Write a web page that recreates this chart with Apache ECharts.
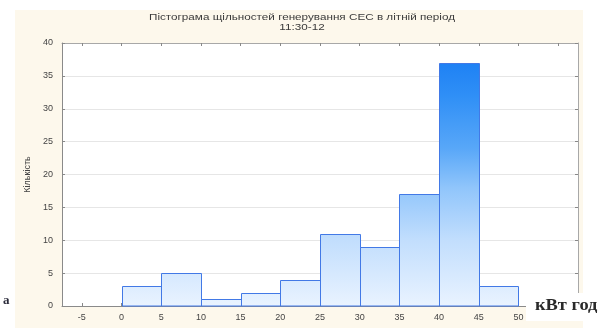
<!DOCTYPE html>
<html>
<head>
<meta charset="utf-8">
<script src="https://cdn.jsdelivr.net/npm/echarts@6/dist/echarts.min.js"></script>
<style>
  html, body { margin: 0; padding: 0; background: #fff; }
  #chart { width: 604px; height: 328px; }
</style>
</head>
<body>
<div id="chart"></div>
<script>
// Histogram bins (kWh) and counts
const binStart = [0, 5, 10, 15, 20, 25, 30, 35, 40, 45];
const binEnd   = [5, 10, 15, 20, 25, 30, 35, 40, 45, 50];
const counts   = [3, 5, 1, 2, 4, 11, 9, 17, 37, 3];

const xTickValues  = [-5, 0, 5, 10, 15, 20, 25, 30, 35, 40, 45, 50, 55];
const xLabelValues = [-5, 0, 5, 10, 15, 20, 25, 30, 35, 40, 45, 50];

const titleLines = ['Пістограма щільностей генерування СЕС в літній період', '11:30-12'];
const yName = 'Кількість';
const unitText = 'кВт год';

const chart = echarts.init(document.getElementById('chart'), null, { renderer: 'canvas' });

const font = '"Liberation Sans", Arial, sans-serif';
const fillStops = [
  { offset: 0.00, color: '#e9f3ff' },
  { offset: 0.25, color: '#c2defd' },
  { offset: 0.45, color: '#90c5fb' },
  { offset: 0.60, color: '#58a7f8' },
  { offset: 0.80, color: '#2f8ff6' },
  { offset: 1.00, color: '#1479f3' }
];

function renderBin(params, api) {
  const p0 = api.coord([api.value(0), 0]);
  const p1 = api.coord([api.value(1), api.value(2)]);
  const yTop = api.coord([0, 40])[1];
  const yBot = api.coord([0, 0])[1];
  const x0 = Math.round(p0[0]) + 0.5;
  const x1 = Math.round(p1[0]) + 0.5;
  const y1 = Math.round(p1[1]) + 0.5;
  const y0 = Math.round(p0[1]);
  return {
    type: 'rect',
    shape: { x: x0, y: y1, width: x1 - x0, height: y0 - y1 },
    style: {
      fill: new echarts.graphic.LinearGradient(0, yBot, 0, yTop, fillStops, true),
      stroke: '#4279e6',
      lineWidth: 1
    }
  };
}

const axisTickCommon = { show: true, inside: true, length: 3, lineStyle: { color: '#888' } };
const labelStyle = { fontFamily: font, fontSize: 9, color: '#444' };

chart.setOption({
  backgroundColor: '#ffffff',
  animation: false,
  grid: {
    left: 62, right: 26, top: 43, bottom: 22,
    show: true, backgroundColor: '#ffffff', borderWidth: 0
  },
  xAxis: [
    {
      type: 'value', min: -7.5, max: 57.5, position: 'bottom',
      axisLine: { show: true, onZero: false, lineStyle: { color: '#8a8a8a', width: 1 } },
      axisTick: Object.assign({}, axisTickCommon, { customValues: xTickValues }),
      axisLabel: Object.assign({ customValues: xLabelValues, margin: 7 }, labelStyle),
      splitLine: { show: false }
    },
    {
      type: 'value', min: -7.5, max: 57.5, position: 'top',
      axisLine: { show: true, onZero: false, lineStyle: { color: '#a8a8a8', width: 1 } },
      axisTick: Object.assign({}, axisTickCommon, { customValues: xTickValues }),
      axisLabel: { show: false },
      splitLine: { show: false }
    }
  ],
  yAxis: [
    {
      type: 'value', min: 0, max: 40, interval: 5, position: 'left',
      name: yName, nameLocation: 'middle', nameGap: 27, nameRotate: 90,
      nameTextStyle: { fontFamily: font, fontSize: 9, color: '#444' },
      axisLine: { show: true, onZero: false, lineStyle: { color: '#8a8a8a', width: 1 } },
      axisTick: axisTickCommon,
      axisLabel: Object.assign({ margin: 9 }, labelStyle),
      splitLine: { show: true, lineStyle: { color: '#e6e6e6', width: 1 } }
    },
    {
      type: 'value', min: 0, max: 40, interval: 5, position: 'right',
      axisLine: { show: true, onZero: false, lineStyle: { color: '#a8a8a8', width: 1 } },
      axisTick: axisTickCommon,
      axisLabel: { show: false },
      splitLine: { show: false }
    }
  ],
  series: [{
    type: 'custom',
    xAxisIndex: 0,
    yAxisIndex: 0,
    renderItem: renderBin,
    encode: { x: [0, 1], y: 2 },
    data: binStart.map((s, i) => [s, binEnd[i], counts[i]]),
    z: 3
  }],
  graphic: [
    { type: 'rect', z: -100, silent: true,
      shape: { x: 15, y: 10, width: 568, height: 318 },
      style: { fill: '#fdf8ec' } },
    // two-line chart title, slightly widened
    { type: 'text', z: 50, silent: true, x: 302, y: 18, scaleX: 1.3,
      style: { text: titleLines[0], font: '9px ' + font, fill: '#3a3a3a',
               align: 'center', verticalAlign: 'middle' } },
    { type: 'text', z: 50, silent: true, x: 302, y: 28, scaleX: 1.3,
      style: { text: titleLines[1], font: '9px ' + font, fill: '#3a3a3a',
               align: 'center', verticalAlign: 'middle' } },
    // unit caption beside the x axis
    { type: 'rect', z: 100, silent: true,
      shape: { x: 526, y: 293, width: 78, height: 28 },
      style: { fill: '#ffffff' } },
    { type: 'text', z: 101, silent: true, x: 535, y: 306, scaleX: 1.15,
      style: { text: unitText, font: 'bold 16px "Liberation Serif", "DejaVu Serif", serif',
               fill: '#2a2a2a', verticalAlign: 'middle' } },
    { type: 'text', z: 101, silent: true, x: 3, y: 301,
      style: { text: 'а', font: 'bold 13px "Liberation Serif", serif',
               fill: '#2a2a3a', verticalAlign: 'middle' } }
  ]
});
</script>
</body>
</html>
